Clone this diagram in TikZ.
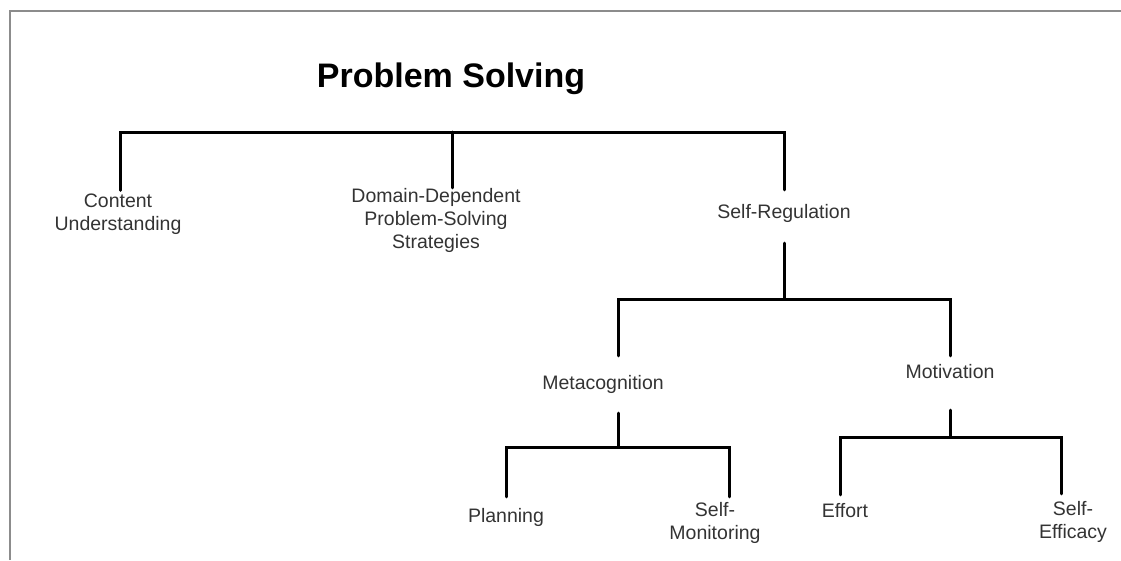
\documentclass[tikz,border=0pt]{standalone}
\usepackage{fontspec}
\setmainfont{Liberation Sans}
\usepackage{tikz}

\begin{document}
\begin{tikzpicture}[x=1pt, y=-1pt,
        lbl/.style={font=\fontsize{19.5}{23}\selectfont, text=black!80, align=center,
                inner sep=0pt, outer sep=0pt, anchor=base},
        branch/.style={line width=3pt, line cap=round}]
        \useasboundingbox (0,0) rectangle (1121,560);
        \draw[line width=2pt, color=black!45] (10,560) -- (10,11) -- (1121,11);

        \node[font=\bfseries\fontsize{34}{40}\selectfont, inner sep=0pt, anchor=base] (ps) at (451,87) {Problem Solving};

        \node[lbl] (cu) at (118,230) {Content\\Understanding};
        \node[lbl] (dd) at (436,248) {Domain-Dependent\\Problem-Solving\\Strategies};
        \node[lbl] (sr) at (784,218) {Self-Regulation};
        \node[lbl] (mc) at (603,389) {Metacognition};
        \node[lbl] (mo) at (950,378) {Motivation};
        \node[lbl] (pl) at (506,522) {Planning};
        \node[lbl] (sm) at (715,539) {Self-\\Monitoring};
        \node[lbl] (ef) at (845,517) {Effort};
        \node[lbl] (se) at (1073,538) {Self-\\Efficacy};

        \coordinate (ps-bar) at (452,132);
        \coordinate (sr-bar) at (784,299);
        \coordinate (mc-bar) at (618,447);
        \coordinate (mo-bar) at (950,437);

        \draw[branch] ([xshift=2pt,yshift=3pt]cu.north) |- (ps-bar) -| ([yshift=14pt]sr.north);
        \draw[branch] (ps-bar) -- (ps-bar |- dd.north);
        \draw[branch] ([yshift=-21pt]sr.south) -- (sr-bar);
        \draw[branch] ([xshift=15pt,yshift=19pt]mc.north) |- (sr-bar) -| ([yshift=8pt]mo.north);
        \draw[branch] ([xshift=15pt,yshift=-20pt]mc.south) -- (mc-bar);
        \draw[branch] ([yshift=11pt]pl.north) |- (mc-bar) -| ([xshift=14pt,yshift=5pt]sm.north);
        \draw[branch] ([yshift=-32pt]mo.south) -- (mo-bar);
        \draw[branch] ([xshift=-5pt,yshift=8pt]ef.north) |- (mo-bar) -| ([xshift=-12pt,yshift=7pt]se.north);
\end{tikzpicture}
\end{document}
